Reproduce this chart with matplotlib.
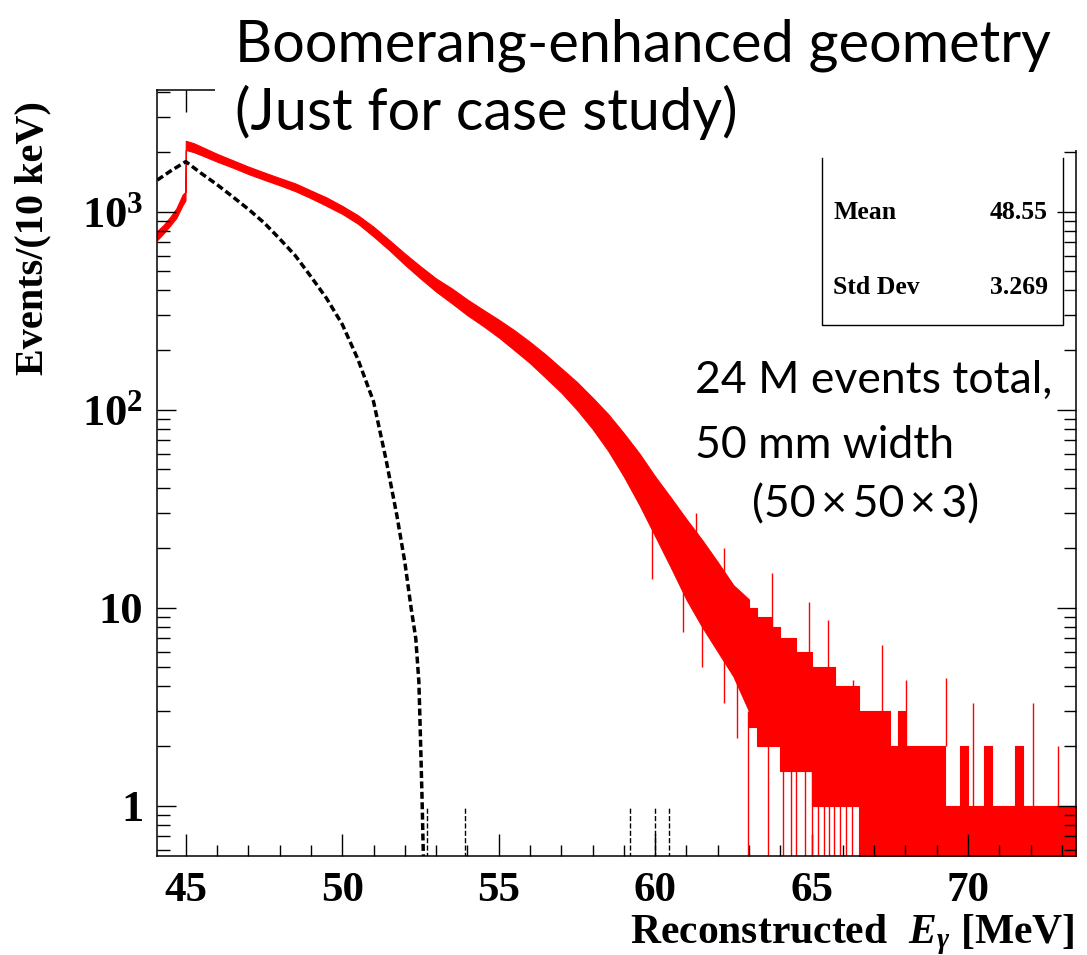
import matplotlib.pyplot as plt
import numpy as np
from matplotlib.patches import Rectangle
from matplotlib.lines import Line2D
from matplotlib.ticker import FixedLocator, LogLocator, MultipleLocator, NullFormatter

plt.rcParams['mathtext.fontset'] = 'custom'
plt.rcParams['mathtext.rm'] = 'Liberation Serif'
plt.rcParams['mathtext.bf'] = 'Liberation Serif:bold'
plt.rcParams['mathtext.it'] = 'Liberation Serif:italic:bold'
plt.rcParams['mathtext.bfit'] = 'Liberation Serif:italic:bold'

# red histogram body: energy [MeV], lower / upper edge of the noisy band (events / 10 keV)
red_e = [44.09, 44.3, 44.5, 44.7, 44.9, 44.99, 45.0, 45.25, 45.5, 46.0, 46.5, 47.0,
         47.5, 48.0, 48.5, 49.0, 49.5, 50.0, 50.5, 51.0, 51.5, 52.0, 52.5, 53.0,
         53.5, 54.0, 54.5, 55.0, 55.5, 56.0, 56.5, 57.0, 57.5, 58.0, 58.5, 59.0,
         59.5, 60.0, 60.5, 61.0, 61.5, 62.0, 62.5, 63.0]
red_lo = [720, 780, 850, 930, 1080, 1140, 2050, 2000, 1930, 1790, 1670, 1550,
          1450, 1360, 1270, 1170, 1070, 975, 870, 750, 640, 540, 460, 395,
          345, 300, 265, 232, 200, 172, 145, 122, 100, 80, 62, 46,
          33, 23, 16, 11, 8, 6, 4.5, 3]
red_hi = [800, 860, 940, 1040, 1220, 1260, 2280, 2220, 2130, 1960, 1820, 1690,
          1580, 1480, 1390, 1280, 1180, 1070, 960, 840, 720, 615, 530, 460,
          410, 360, 320, 285, 252, 220, 190, 162, 138, 115, 95, 76,
          60, 46, 36, 28, 22, 17, 13, 11]

# red tail, 0.25 MeV groups from 63 to 73.5 MeV
tail_edges = np.arange(63.0, 73.51, 0.25)
tail_top = [10, 9, 9, 8, 7, 7, 6, 6, 5, 5, 5, 4, 4, 4, 3, 3, 3, 3, 2, 3, 2,
            2, 2, 2, 2, 1, 1, 2, 1, 1, 2, 1, 1, 1, 2, 1, 1, 1, 1, 1, 1, 1]
tail_bot = [2.5, 2, 2, 2, 1.5, 1.5, 1.5, 1.5, 1, 1, 1, 1, 1, 1, 0.1, 0.1, 0.1, 0.1, 0.1, 0.1, 0.1,
            0.1, 0.1, 0.1, 0.1, 0.1, 0.1, 0.1, 0.1, 0.1, 0.1, 0.1, 0.1, 0.1, 0.1, 0.1, 0.1, 0.1, 0.1, 0.1, 0.1, 0.1]
# single-bin upward fluctuations: position, level the spike starts from, spike height
red_spike_e = [61.3, 62.2, 63.75, 64.92, 65.53, 66.33, 67.24, 68.03, 69.31, 70.16, 72.07, 72.87]
red_spike_b = [20, 12, 8, 5, 5, 3, 3, 2, 2, 1, 1, 1]
red_spike_v = [30, 20, 15, 10.7, 8.7, 4.3, 6.5, 4.3, 4.4, 3.3, 3.3, 2]
# single-bin downward fluctuations: position, band level, dip depth
red_dip_e = [59.9, 60.9, 61.5, 62.2, 62.6]
red_dip_b = [25, 15, 12, 9, 7]
red_dip_v = [14, 7.5, 5, 3.3, 2.2]
red_zero_e = [62.97, 63.6, 64.1, 64.35, 64.5, 64.8, 65.0, 65.2, 65.4, 65.55, 65.7, 65.9, 66.1, 66.3]

# black histogram
black_e = [44.09, 44.5, 45.0, 45.5, 46.0, 46.5, 47.0, 47.5, 48.0, 48.5, 49.0, 49.5,
           50.0, 50.5, 51.0, 51.4, 51.75, 52.0, 52.2, 52.35, 52.45, 52.5, 52.55, 52.6]
black_v = [1445, 1600, 1790, 1560, 1370, 1190, 1030, 880, 730, 600, 470, 365,
           270, 180, 110, 56, 29, 17, 10, 7, 4.2, 2.2, 1.1, 0.5]
black_spike_e = [52.7, 53.93, 59.2, 60.0, 60.45]
black_spike_v = [1, 1, 1, 1, 1]

W, H = 1087, 955
fig = plt.figure(figsize=(W / 100, H / 100), dpi=100)
ax = fig.add_axes([157.3 / W, 1 - 855.7 / H, (1075.7 - 157.3) / W, (855.7 - 90) / H])
ax.set_yscale('log')
ax.set_xlim(44.09, 73.44)
ax.set_ylim(0.559, 4118)

ax.fill_between(red_e, red_lo, red_hi, color='red', lw=0.8)
top_ext = tail_top + [tail_top[-1]]
bot_ext = tail_bot + [tail_bot[-1]]
ax.fill_between(tail_edges, bot_ext, top_ext, step='post', color='red', lw=0.8)
ax.vlines(red_spike_e, red_spike_b, red_spike_v, color='red', lw=1)
ax.vlines(red_dip_e, red_dip_v, red_dip_b, color='red', lw=1)
ax.vlines(red_zero_e, 0.3, 3, color='red', lw=1)

ax.plot(black_e, black_v, color='black', lw=2.5, ls=(0, (2, 1)))
ax.vlines(black_spike_e, 0.3, black_spike_v, color='black', lw=1, linestyles='dashed')

# axes styling (ROOT look)
serif = 'Liberation Serif'
ax.xaxis.set_major_locator(MultipleLocator(5))
ax.xaxis.set_minor_locator(MultipleLocator(1))
ax.yaxis.set_major_locator(FixedLocator([1, 10, 100, 1000]))
ax.yaxis.set_minor_locator(LogLocator(subs=range(2, 10)))
ax.yaxis.set_minor_formatter(NullFormatter())
ax.set_yticklabels(['1', '10', r'$\mathbf{10^{2}}$', r'$\mathbf{10^{3}}$'])
ax.tick_params(which='both', direction='in', top=True, right=True, width=1)
ax.tick_params(axis='x', which='major', length=15.8, pad=12)
ax.tick_params(axis='x', which='minor', length=7.9)
ax.tick_params(axis='y', which='major', length=14, pad=10)
ax.tick_params(axis='y', which='minor', length=9)
for lab in ax.get_xticklabels():
    lab.set_fontfamily(serif)
    lab.set_fontweight('bold')
    lab.set_fontsize(31)
for lab in ax.get_yticklabels():
    lab.set_fontfamily(serif)
    lab.set_fontweight('bold')
    lab.set_fontsize(32)
for s in ax.spines.values():
    s.set_linewidth(1.1)

fig.text(33 / W, 1 - 238 / H, 'Events/(10 keV)', rotation=90, ha='center', va='center',
         family=serif, fontweight='bold', fontsize=29)
fig.text(1075 / W, 1 - 943 / H, r'$\mathbf{Reconstructed}\ \ \mathbfit{E}_{\gamma}\ \mathbf{[MeV]}$',
         ha='right', va='baseline', fontsize=30)

# stats box
bx0, bx1, by0, by1 = 821.7, 1062.7, 325, 158
box = Line2D([bx0 / W, bx0 / W, bx1 / W, bx1 / W], [1 - by1 / H, 1 - by0 / H, 1 - by0 / H, 1 - by1 / H],
             color='black', lw=1, transform=fig.transFigure)
fig.add_artist(box)
for name, val, yy in [('Mean', '48.55', 212), ('Std Dev', '3.269', 287)]:
    fig.text(833 / W, 1 - yy / H, name, ha='left', va='center', family=serif, fontweight='bold', fontsize=18.5)
    fig.text(1048 / W, 1 - yy / H, val, ha='right', va='center', family=serif, fontweight='bold', fontsize=18.5)

# slide text box covering the top of the frame
fig.add_artist(Rectangle((215 / W, 1 - 150 / H), 1 - 215 / W, 150 / H, transform=fig.transFigure,
                         facecolor='white', edgecolor='none', zorder=5))
sans = ['Lato', 'DejaVu Sans']
fig.text(235 / W, 1 - 45 / H, 'Boomerang-enhanced geometry', ha='left', va='center',
         family=sans, fontsize=41.5, zorder=6)
fig.text(235 / W, 1 - 112 / H, '(Just for case study)', ha='left', va='center',
         family=sans, fontsize=41.5, zorder=6)
fig.text(695 / W, 1 - 380 / H, '24 M events total,', ha='left', va='center', family=sans, fontsize=32)
fig.text(695 / W, 1 - 445 / H, '50 mm width', ha='left', va='center', family=sans, fontsize=32)
fig.text(752 / W, 1 - 505 / H, '(50\u2009×\u200950\u2009×\u20093)', ha='left', va='center',
         family=sans, fontsize=32)

fig.savefig('out.png', dpi=100)
